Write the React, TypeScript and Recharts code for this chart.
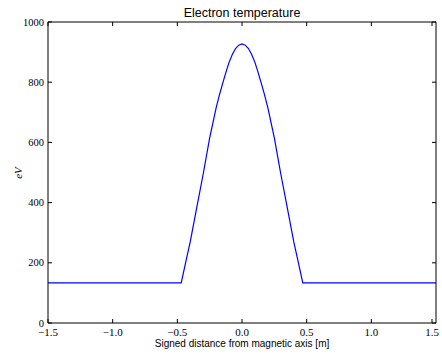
import React from 'react';
import { LineChart, Line, XAxis, YAxis } from 'recharts';

const distances = [
  -1.5, -0.47, -0.435, -0.4, -0.35, -0.3, -0.25, -0.2, -0.175, -0.15, -0.125, -0.1, -0.075, -0.05, -0.025, 0,
  0.025, 0.05, 0.075, 0.1, 0.125, 0.15, 0.175, 0.2, 0.25, 0.3, 0.35, 0.4, 0.435, 0.47, 1.5,
];
const temperatures = [
  133, 133, 202, 270, 383, 495, 615, 715, 757, 795, 832, 866, 892, 912, 923, 927,
  923, 912, 892, 866, 832, 795, 757, 715, 615, 495, 383, 270, 202, 133, 133,
];
const xTicks = [-1.5, -1.0, -0.5, 0.0, 0.5, 1.0, 1.5];
const yTicks = [0, 200, 400, 600, 800, 1000];

const data = distances.map((d, i) => ({ x: d, t: temperatures[i] }));

const serif = '"Liberation Serif", "DejaVu Serif", serif';
const sans = '"Liberation Sans", Arial, sans-serif';

const fmtX = (v: number) => (v < 0 ? '\u2212' + Math.abs(v).toFixed(1) : v.toFixed(1));

const BottomTick = (props: any) => {
  const { x, y, payload } = props;
  return (
    <g>
      <line x1={x} y1={y} x2={x} y2={y - 4} stroke="#000" strokeWidth={1} />
      <text x={x} y={y + 13} textAnchor="middle" fontFamily={serif} fontSize={11} fill="#000">
        {fmtX(payload.value)}
      </text>
    </g>
  );
};

const TopTick = (props: any) => {
  const { x, y } = props;
  return <line x1={x} y1={y} x2={x} y2={y + 4} stroke="#000" strokeWidth={1} />;
};

const LeftTick = (props: any) => {
  const { x, y, payload } = props;
  return (
    <g>
      <line x1={x} y1={y} x2={x + 4} y2={y} stroke="#000" strokeWidth={1} />
      <text x={x - 4} y={y + 3.5} textAnchor="end" fontFamily={serif} fontSize={10.5} fill="#000">
        {payload.value}
      </text>
    </g>
  );
};

const RightTick = (props: any) => {
  const { x, y } = props;
  return <line x1={x} y1={y} x2={x - 4} y2={y} stroke="#000" strokeWidth={1} />;
};

export default function App() {
  return (
    <div style={{ position: 'absolute', left: 0, top: 0, width: 442, height: 354, background: '#fff' }}>
      <LineChart width={442} height={354} data={data} margin={{ top: 0, right: 0, bottom: 0, left: 0 }}>
        <XAxis
          xAxisId="b"
          dataKey="x"
          type="number"
          domain={[-1.5, 1.5]}
          ticks={xTicks}
          allowDataOverflow
          height={31}
          tickSize={0}
          tickMargin={0}
          tick={<BottomTick />}
          axisLine={{ stroke: '#000', strokeWidth: 1 }}
          tickLine={false}
        />
        <XAxis
          xAxisId="t"
          orientation="top"
          dataKey="x"
          type="number"
          domain={[-1.5, 1.5]}
          ticks={xTicks}
          allowDataOverflow
          height={22}
          tickSize={0}
          tickMargin={0}
          tick={<TopTick />}
          axisLine={{ stroke: '#000', strokeWidth: 1 }}
          tickLine={false}
        />
        <YAxis
          yAxisId="l"
          type="number"
          domain={[0, 1000]}
          ticks={yTicks}
          allowDataOverflow
          width={48}
          tickSize={0}
          tickMargin={0}
          tick={<LeftTick />}
          axisLine={{ stroke: '#000', strokeWidth: 1 }}
          tickLine={false}
        />
        <YAxis
          yAxisId="r"
          orientation="right"
          type="number"
          domain={[0, 1000]}
          ticks={yTicks}
          allowDataOverflow
          width={6}
          tickSize={0}
          tickMargin={0}
          tick={<RightTick />}
          axisLine={{ stroke: '#000', strokeWidth: 1 }}
          tickLine={false}
        />
        <Line
          xAxisId="t"
          yAxisId="r"
          dataKey="t"
          stroke="none"
          dot={false}
          isAnimationActive={false}
        />
        <Line
          xAxisId="b"
          yAxisId="l"
          dataKey="t"
          type="linear"
          stroke="#0000ff"
          strokeWidth={1.2}
          dot={false}
          isAnimationActive={false}
        />
        <text x={242} y={17} textAnchor="middle" fontFamily={sans} fontSize={12.5} fill="#000">
          Electron temperature
        </text>
        <text x={242} y={347} textAnchor="middle" fontFamily={sans} fontSize={10} fill="#000">
          Signed distance from magnetic axis [m]
        </text>
        <text
          x={22}
          y={173}
          textAnchor="middle"
          fontFamily={serif}
          fontStyle="italic"
          fontSize={11}
          fill="#000"
          transform="rotate(-90 22 173)"
        >
          eV
        </text>
      </LineChart>
    </div>
  );
}
